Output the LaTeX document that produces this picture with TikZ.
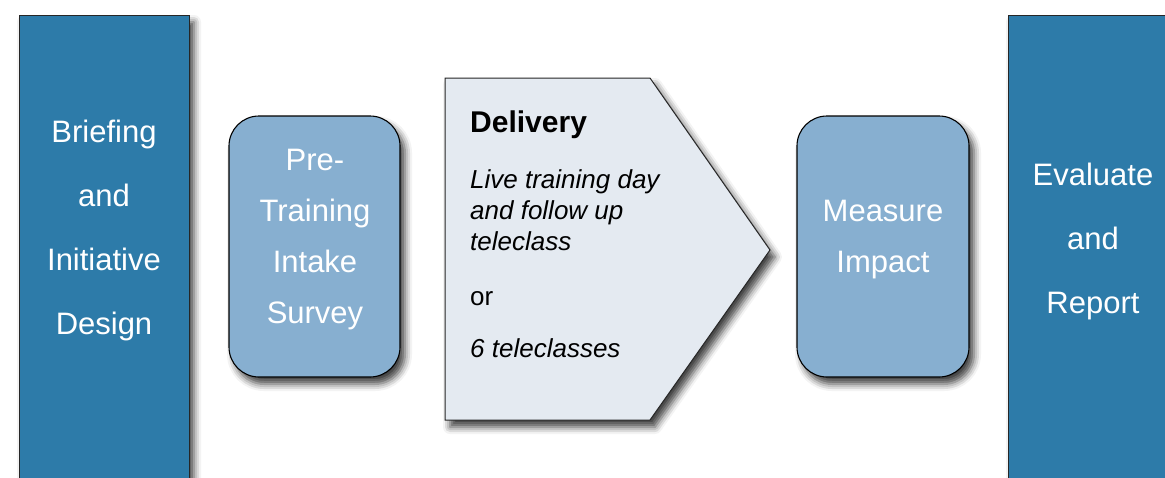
\documentclass[tikz,border=0pt]{standalone}
\usepackage{fontspec}
\setmainfont{Liberation Sans}
\usetikzlibrary{shadows.blur}
\definecolor{darkblue}{HTML}{2D7BA9}
\definecolor{lightblue}{HTML}{87AFD0}
\definecolor{paleblue}{HTML}{E4EAF1}
\tikzset{
  shad/.style={blur shadow={shadow xshift=5pt, shadow yshift=-7pt, shadow blur radius=7pt, shadow opacity=75}},
  bigbox/.style={fill=darkblue, draw=black!85, line width=1pt, shad},
  roundbox/.style={fill=lightblue, draw=black, line width=1.1pt, rounded corners=30pt, shad},
  penta/.style={fill=paleblue, draw=black!85, line width=1pt, shad},
  whitetxt/.style={text=white, align=center, inner sep=0pt, font=\fontsize{31}{64}\selectfont},
  whitetxtb/.style={text=white, align=center, inner sep=0pt, font=\fontsize{31}{51}\selectfont},
  deltxt/.style={text=black, anchor=base west, inner sep=0pt, font=\fontsize{26}{31}\selectfont\itshape},
}
\begin{document}
\begin{tikzpicture}[x=1pt,y=-1pt]
\useasboundingbox (0,0) rectangle (1165,477);
\clip (0,0) rectangle (1165,477);
% left box
\path[bigbox] (19,15) rectangle (189,510);
\node[whitetxt] (brief) at (104,230) {Briefing\\and\\Initiative\\Design};
% pre-training
\path[roundbox] (229,116) rectangle (400,377);
\node[whitetxtb] (pre) at (315,240) {Pre-\\Training\\Intake\\Survey};
% delivery pentagon
\path[penta] (445,78) -- (650,78) -- (770,250) -- (650,420) -- (445,420) -- cycle;
\node[anchor=base west, inner sep=0pt, font=\fontsize{30}{36}\selectfont\bfseries] (deltitle) at (470,132) {Delivery};
\node[deltxt] (del1) at (470,188) {Live training day};
\node[deltxt] (del2) at (470,219) {and follow up};
\node[deltxt] (del3) at (470,250) {teleclass};
\node[deltxt, font=\fontsize{26}{31}\selectfont] (delor) at (470,305) {or};
\node[deltxt] (del4) at (470,357) {6 teleclasses};
% measure impact
\path[roundbox] (797,116) rectangle (969,377);
\node[whitetxtb] (meas) at (883,240) {Measure\\Impact};
% right box
\path[bigbox] (1008,15) rectangle (1190,510);
\node[whitetxt] (eval) at (1093,241) {Evaluate\\and\\Report};
\end{tikzpicture}
\end{document}
